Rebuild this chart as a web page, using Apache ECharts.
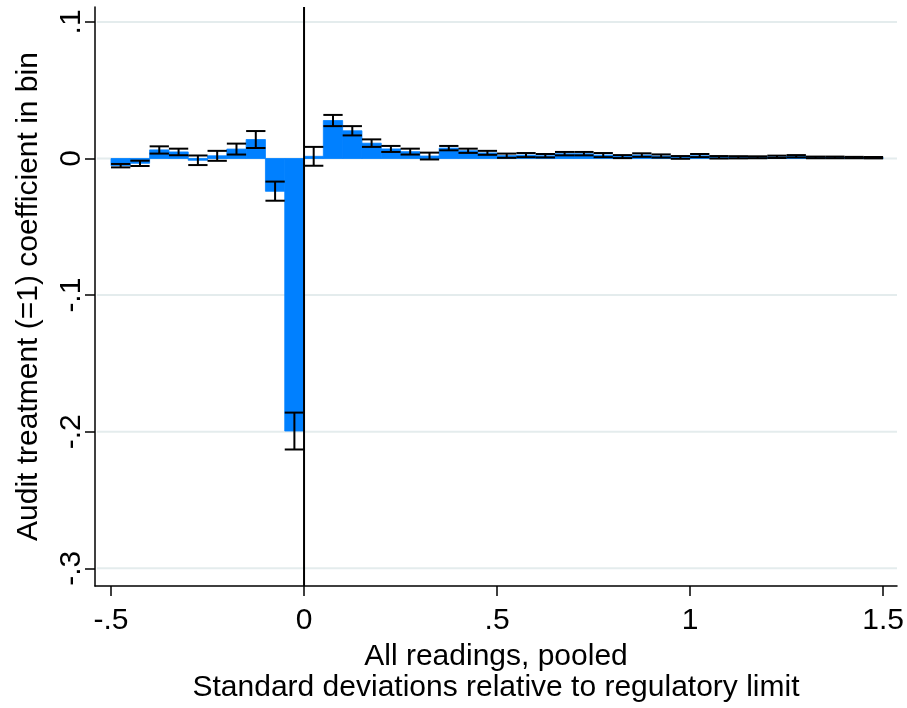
<!DOCTYPE html>
<html><head><meta charset="utf-8">
<script src="https://cdn.jsdelivr.net/npm/echarts@6/dist/echarts.min.js"></script>
<style>html,body{margin:0;padding:0;background:#fff;overflow:hidden}#c{width:907px;height:708px}</style>
</head><body><div id="c"></div>
<script>
// Bin edges (standard deviations relative to regulatory limit)
const binLower = [-0.50,-0.45,-0.40,-0.35,-0.30,-0.25,-0.20,-0.15,-0.10,-0.05,
  0.00,0.05,0.10,0.15,0.20,0.25,0.30,0.35,0.40,0.45,
  0.50,0.55,0.60,0.65,0.70,0.75,0.80,0.85,0.90,0.95,
  1.00,1.05,1.10,1.15,1.20,1.25,1.30,1.35,1.40,1.45];
const binUpper = [-0.45,-0.40,-0.35,-0.30,-0.25,-0.20,-0.15,-0.10,-0.05,0.00,
  0.05,0.10,0.15,0.20,0.25,0.30,0.35,0.40,0.45,0.50,
  0.55,0.60,0.65,0.70,0.75,0.80,0.85,0.90,0.95,1.00,
  1.05,1.10,1.15,1.20,1.25,1.30,1.35,1.40,1.45,1.50];
// Audit treatment coefficient per bin
const coef = [-0.0052,-0.0035,0.0063,0.0048,-0.0013,0.0020,0.0069,0.0139,-0.0240,-0.1995,
  0.0016,0.0278,0.0203,0.0112,0.0070,0.0050,0.0018,0.0076,0.0057,0.0041,
  0.0021,0.0025,0.0020,0.0035,0.0035,0.0025,0.0015,0.0025,0.0018,0.0008,
  0.0020,0.0009,0.0009,0.0009,0.0012,0.0016,0.0008,0.0008,0.0007,0.0006];
// 95% confidence interval bounds
const ciLow = [-0.0065,-0.0055,0.0036,0.0024,-0.0048,-0.0017,0.0029,0.0077,-0.0309,-0.2130,
  -0.0053,0.0237,0.0169,0.0085,0.0048,0.0029,-0.0007,0.0060,0.0041,0.0027,
  0.0005,0.0010,0.0008,0.0023,0.0023,0.0010,0.0003,0.0012,0.0007,-0.0002,
  0.0010,0.0000,0.0001,0.0002,0.0004,0.0008,0.0002,0.0002,0.0002,0.0001];
const ciHigh = [-0.0040,-0.0016,0.0089,0.0072,0.0022,0.0056,0.0109,0.0201,-0.0169,-0.1860,
  0.0085,0.0319,0.0237,0.0140,0.0092,0.0072,0.0043,0.0092,0.0072,0.0056,
  0.0036,0.0040,0.0033,0.0048,0.0048,0.0040,0.0025,0.0038,0.0030,0.0018,
  0.0033,0.0018,0.0017,0.0016,0.0021,0.0025,0.0014,0.0014,0.0012,0.0011];
const xTicks = [-0.5, 0, 0.5, 1, 1.5];
const yTicks = [-0.3, -0.2, -0.1, 0, 0.1];
const refLineX = [0];
const xTitle = 'All readings, pooled\nStandard deviations relative to regulatory limit';
const yTitle = 'Audit treatment (=1) coefficient in bin';

const FONT = 'Liberation Sans, Arial, sans-serif';
const BLUE = '#0080ff';
function fmt(v) {
  if (Math.abs(v) < 1e-9) return '0';
  return String(+v.toFixed(2)).replace(/^(-?)0\./, '$1.');
}
const barData = binLower.map((l, i) => [l, binUpper[i], coef[i], ciLow[i], ciHigh[i]]);

const chart = echarts.init(document.getElementById('c'), null, {renderer: 'canvas', width: 907, height: 708});
chart.setOption({
  animation: false,
  backgroundColor: '#fff',
  grid: {left: 95, width: 802, top: 7, height: 585, containLabel: false},
  xAxis: {
    type: 'value', min: -0.5415, max: 1.536,
    axisLine: {show: true, onZero: false, lineStyle: {color: '#000', width: 1.5}},
    axisTick: {show: true, customValues: xTicks, length: 10, lineStyle: {color: '#000', width: 1.5}},
    axisLabel: {customValues: xTicks, formatter: fmt, fontSize: 30, color: '#000', fontFamily: FONT, margin: 20},
    splitLine: {show: false},
    name: xTitle, nameLocation: 'middle', nameGap: 47,
    nameTextStyle: {fontSize: 30, color: '#000', fontFamily: FONT, lineHeight: 31}
  },
  yAxis: {
    type: 'value', min: -0.313, max: 0.1109,
    axisLine: {show: true, onZero: false, lineStyle: {color: '#000', width: 1.5}},
    axisTick: {show: true, customValues: yTicks, length: 10, lineStyle: {color: '#000', width: 1.5}},
    axisLabel: {customValues: yTicks, formatter: fmt, rotate: 90, fontSize: 30, color: '#000', fontFamily: FONT, margin: 8},
    splitLine: {show: false},
    name: yTitle, nameLocation: 'middle', nameRotate: 90, nameGap: 51,
    nameTextStyle: {fontSize: 30, color: '#000', fontFamily: FONT}
  },
  series: [
    {
      type: 'custom', name: 'grid', z: 1, silent: true,
      data: yTicks.map(v => [v]),
      encode: {y: 0},
      renderItem: function (params, api) {
        const cs = params.coordSys;
        const y = api.coord([0, api.value(0)])[1];
        return {type: 'line', shape: {x1: cs.x + 2, y1: y, x2: cs.x + cs.width, y2: y},
          style: {stroke: '#e4eced', lineWidth: 2}};
      }
    },
    {
      type: 'custom', name: 'bars', z: 2, silent: true,
      data: barData,
      encode: {x: [0, 1], y: [2, 3, 4]},
      renderItem: function (params, api) {
        const a = api.coord([api.value(0), 0]);
        const b = api.coord([api.value(1), api.value(2)]);
        return {type: 'rect',
          shape: {x: Math.min(a[0], b[0]), y: Math.min(a[1], b[1]), width: Math.abs(b[0] - a[0]), height: Math.abs(b[1] - a[1])},
          style: {fill: BLUE, stroke: BLUE, lineWidth: 0.8}};
      }
    },
    {
      type: 'custom', name: 'ci', z: 3, silent: true,
      data: barData,
      encode: {x: [0, 1], y: [3, 4]},
      renderItem: function (params, api) {
        const x0 = api.value(0), x1 = api.value(1), mid = (x0 + x1) / 2;
        const lo = api.value(3), hi = api.value(4);
        const pL0 = api.coord([x0, lo]), pL1 = api.coord([x1, lo]);
        const pH0 = api.coord([x0, hi]), pH1 = api.coord([x1, hi]);
        const m0 = api.coord([mid, lo]), m1 = api.coord([mid, hi]);
        const st = {stroke: '#000', lineWidth: 2};
        return {type: 'group', children: [
          {type: 'line', shape: {x1: m0[0], y1: m0[1], x2: m1[0], y2: m1[1]}, style: st},
          {type: 'line', shape: {x1: pL0[0], y1: pL0[1], x2: pL1[0], y2: pL1[1]}, style: st},
          {type: 'line', shape: {x1: pH0[0], y1: pH0[1], x2: pH1[0], y2: pH1[1]}, style: st}
        ]};
      }
    },
    {
      type: 'custom', name: 'ref', z: 4, silent: true,
      data: refLineX.map(v => [v]),
      encode: {x: 0},
      renderItem: function (params, api) {
        const cs = params.coordSys;
        const x = api.coord([api.value(0), 0])[0];
        return {type: 'line', shape: {x1: x, y1: cs.y, x2: x, y2: cs.y + cs.height},
          style: {stroke: '#000', lineWidth: 2}};
      }
    }
  ]
});
</script></body></html>
